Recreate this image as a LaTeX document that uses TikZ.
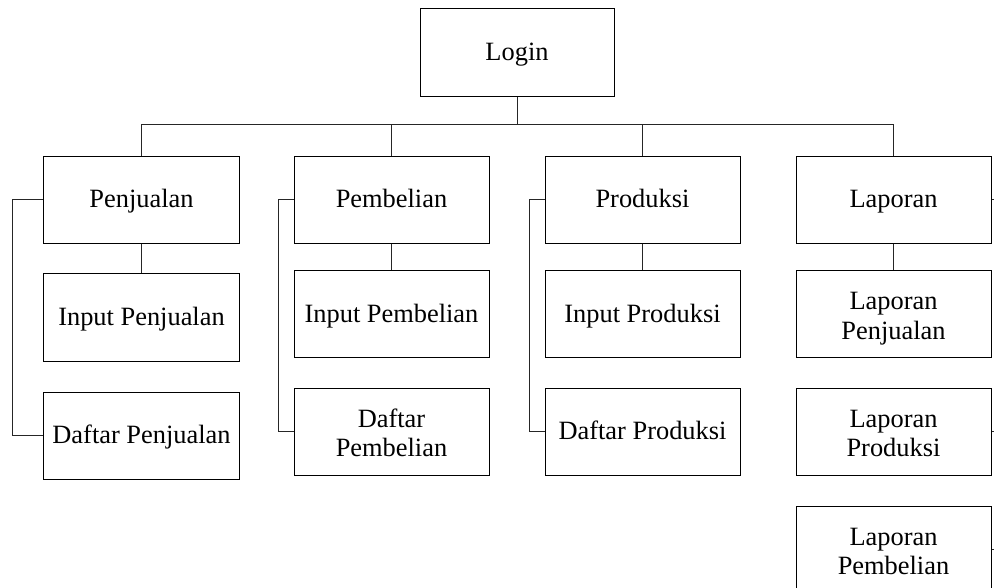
\documentclass[tikz,border=0pt]{standalone}
\usepackage{fontspec}
\setmainfont{Liberation Serif}
\newcommand{\twoline}[2]{\rule{0pt}{27bp}#1\\#2\rule[-6bp]{0pt}{6bp}}
\begin{document}
\begin{tikzpicture}[x=1bp,y=-1bp,
  box/.style={draw=black,line width=1bp,rectangle,minimum width=195bp,minimum height=86bp,align=center,inner sep=0pt,font=\fontsize{26.5}{29.5}\selectfont},
  one/.style={box,text height=20bp,text depth=4bp},
  two/.style={box},
  conn/.style={draw=black!85,line width=1bp}]
\useasboundingbox (0,0) rectangle (994,588);
\node[one,minimum width=194bp,minimum height=88bp] (login) at (517,53) {Login};
% row 1
\node[one] (pj) at (141.5,200) {Penjualan};
\node[one] (pb) at (391.5,200) {Pembelian};
\node[one] (pr) at (642.5,200) {Produksi};
\node[one] (lp) at (893.5,200) {Laporan};
% Penjualan children
\node[one,minimum height=87bp] (ipj) at (141.5,317.5) {Input Penjualan};
\node[one,minimum height=87bp] (dpj) at (141.5,435.5) {Daftar Penjualan};
% Pembelian children
\node[one] (ipb) at (391.5,314) {Input Pembelian};
\node[two,minimum height=87bp] (dpb) at (391.5,431.5) {\twoline{Daftar}{Pembelian}};
% Produksi children
\node[one] (ipr) at (642.5,314) {Input Produksi};
\node[one,minimum height=87bp] (dpr) at (642.5,431.5) {Daftar Produksi};
% Laporan children
\node[two] (lpj) at (893.5,314) {\twoline{Laporan}{Penjualan}};
\node[two,minimum height=87bp] (lpr) at (893.5,431.5) {\twoline{Laporan}{Produksi}};
\node[two,minimum height=87bp] (lpb) at (893.5,549.5) {\twoline{Laporan}{Pembelian}};
% bus
\coordinate (bus) at (517,125);
\draw[conn] (login.south) -- (bus);
\draw[conn] (pj.north) |- (bus);
\draw[conn] (pb.north) |- (bus);
\draw[conn] (pr.north) |- (bus);
\draw[conn] (lp.north) |- (bus);
% child connectors
\draw[conn] (pj.south) -- (ipj.north);
\draw[conn] (pb.south) -- (ipb.north);
\draw[conn] (pr.south) -- (ipr.north);
\draw[conn] (lp.south) -- (lpj.north);
% brackets
\draw[conn] (pj.west) -- ++(-31,0) |- (dpj.west);
\draw[conn] (pb.west) -- ++(-15,0) |- (dpb.west);
\draw[conn] (pr.west) -- ++(-15,0) |- (dpr.west);
% right stubs (cut off)
\coordinate (s1) at (1010,200);
\coordinate (s2) at (1010,431.5);
\coordinate (s3) at (1010,549.5);
\draw[conn] (lp.east) -- (s1);
\draw[conn] (lpr.east) -- (s2);
\draw[conn] (lpb.east) -- (s3);
\end{tikzpicture}
\end{document}
